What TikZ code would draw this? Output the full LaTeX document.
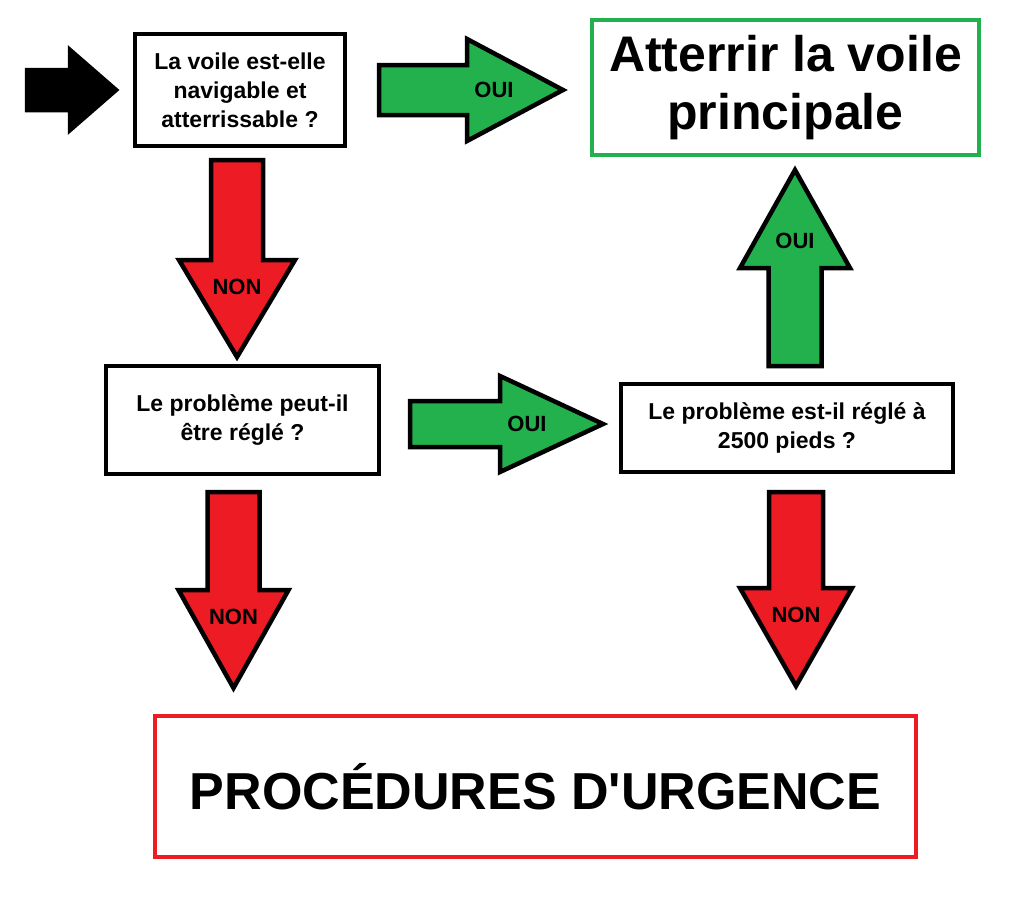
\documentclass[tikz,border=0pt]{standalone}
\usepackage{fontspec}
\setmainfont{Liberation Sans}
\usetikzlibrary{calc,positioning}
\definecolor{paintgreen}{RGB}{34,177,76}
\definecolor{paintred}{RGB}{237,28,36}
\tikzset{%
  % Specifications for the block arrows (half shaft, half head, head length)
  bshaft/.store in=\bshaft, bhead/.store in=\bhead,
  blen/.store in=\blen, btext/.store in=\btext,
  bshaft=26, bhead=55, blen=98, btext={},
  arrowlabel/.style = {font=\fontsize{22}{24}\selectfont\bfseries,
    inner sep=0pt},
  blockarrow/.style = {draw=black, line width=4.5pt, to path={
      let \p1=(\tikztostart), \p2=(\tikztotarget),
          \n1={atan2(\y2-\y1,\x2-\x1)},
          \n2={veclen(\x2-\x1,\y2-\y1)} in
      ($(\p1)+(\n1+90:\bshaft)$)
      -- ($(\p1)+(\n1:\n2-\blen)+(\n1+90:\bshaft)$)
      -- ($(\p1)+(\n1:\n2-\blen)+(\n1+90:\bhead)$)
      -- (\p2)
      -- ($(\p1)+(\n1:\n2-\blen)+(\n1-90:\bhead)$)
      -- ($(\p1)+(\n1:\n2-\blen)+(\n1-90:\bshaft)$)
      -- ($(\p1)+(\n1-90:\bshaft)$) -- cycle
      ($(\p1)+(\n1:\n2-\blen+27)$) node[arrowlabel] {\btext}
    }},
  yesarrow/.style = {blockarrow, fill=paintgreen, btext=OUI},
  noarrow/.style = {blockarrow, fill=paintred, btext=NON},
  startarrow/.style = {blockarrow, fill=black},
  % Specifications for style of nodes:
  question/.style = {rectangle, draw=black, line width=4pt, fill=white,
    align=center, inner sep=0pt,
    font=\fontsize{23}{29}\selectfont\bfseries},
  outcome/.style = {question, font=\fontsize{50}{58}\selectfont\bfseries},
}

\begin{document}
\begin{tikzpicture}[x=1pt, y=1pt]
  \fill[white] (0,0) rectangle (1021,-900);
  \useasboundingbox (0,0) rectangle (1021,-900);
  % Specification of nodes (position, etc.)
  \node(navig)[question, minimum width=210pt, minimum height=112pt]
    at (240,-90) {La voile est-elle\\ navigable et\\ atterrissable ?};
  \node(atterrir)[outcome, draw=paintgreen, minimum width=387pt,
    minimum height=135pt, right=243pt of navig, yshift=2.5pt]
    {Atterrir la voile\\ principale};
  \node(regle)[question, minimum width=273pt, minimum height=108pt,
    below=216pt of navig, xshift=2.5pt]
    {Le problème peut-il\\ être réglé ?};
  \node(pieds)[question, minimum width=332pt, minimum height=88pt,
    right=238pt of regle, yshift=-8pt]
    {Le problème est-il réglé à\\ 2500 pieds ?};
  \node(urgence)[outcome, draw=paintred, minimum width=761pt,
    minimum height=141pt, below=238pt of regle, xshift=293pt,
    font=\fontsize{52}{58}\selectfont\bfseries]
    {PROCÉDURES D\textquotesingle URGENCE};
  \coordinate(entree) at (27,-90);
  % Arrows
  \draw[startarrow, bshaft=20, bhead=40, blen=46]
    (entree) to ([xshift=-17pt]navig.west);
  \draw[yesarrow, bshaft=25, bhead=51, blen=96]
    ([xshift=32pt]navig.east) to ($(atterrir.west |- navig.east)+(-27,0)$);
  \draw[noarrow, bshaft=26, bhead=58, blen=97]
    ($(navig.south)+(-3,-12)$) to ($(navig.south |- regle.north)+(-3,7)$);
  \draw[yesarrow, bshaft=23, bhead=48, blen=103]
    ($(regle.east)+(29,-4)$) to ($(pieds.west |- regle.east)+(-16,-4)$);
  \draw[yesarrow, bshaft=26.5, bhead=55]
    ($(pieds.north)+(8,16)$) to ($(pieds.north |- atterrir.south)+(8,-13)$);
  \draw[noarrow]
    ($(regle.south)+(-9,-16)$) to ($(regle.south |- urgence.north)+(-9,26)$);
  \draw[noarrow, bshaft=27, bhead=56]
    ($(pieds.south)+(9,-18)$) to ($(pieds.south |- urgence.north)+(9,28)$);
\end{tikzpicture}
\end{document}
